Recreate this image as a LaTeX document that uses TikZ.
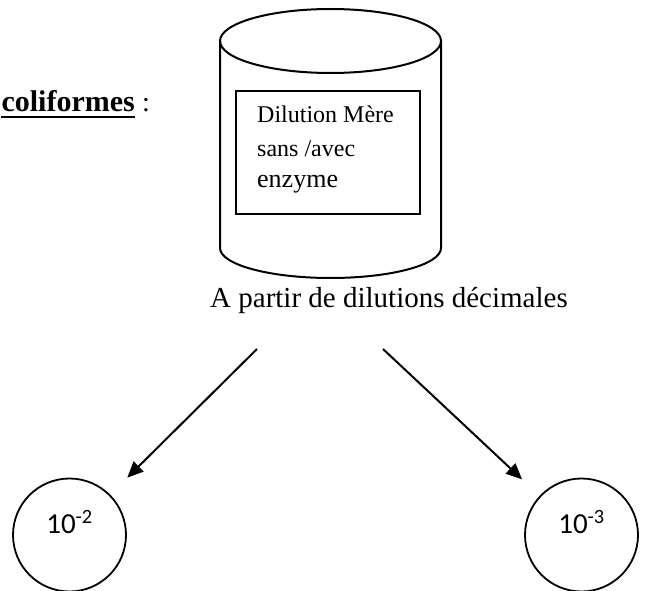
\documentclass[tikz,border=0pt]{standalone}
\usepackage{fontspec}
\setmainfont{Liberation Serif}
\newfontfamily\numfont{Carlito}
\usetikzlibrary{arrows.meta}

\tikzset{
  outline/.style={draw=black, line width=2pt},
  dilcircle/.style={circle, draw=black, line width=1.8pt, minimum size=113pt, inner sep=0pt},
  numlabel/.style={font=\numfont\fontsize{29}{32}\selectfont, inner sep=0pt},
  boxtext/.style={anchor=base west, inner sep=0pt, font=\fontsize{24}{27}\selectfont},
  flow/.style={line width=2pt, -{Triangle[length=16pt, width=14pt]}, shorten >=24pt},
}

\begin{document}
\begin{tikzpicture}[x=1pt, y=-1pt]
  \useasboundingbox (0,0) rectangle (662,591);

  % heading fragment on the left
  \node (head) [anchor=base east, inner sep=0pt, font=\bfseries\fontsize{30}{32}\selectfont] at (135,112) {coliformes};
  \draw[line width=2.5pt] ([yshift=-5pt]head.base west) -- ([yshift=-5pt]head.base east);
  \node (colon) [anchor=base west, inner sep=0pt, font=\fontsize{28}{30}\selectfont] at (142,112) {:};

  % stock dilution vessel
  \draw[outline] (330.5,41) ellipse [x radius=110.5, y radius=32];
  \draw[outline] (220,41) -- (220,248)
    arc[start angle=180, end angle=0, x radius=110.5, y radius=30] -- (441,41);

  \node (box) [outline, minimum width=184pt, minimum height=123pt, inner sep=0pt] at (328,152.5) {};
  \node (l1) [boxtext] at (257,123) {Dilution Mère};
  \node (l2) [boxtext] at (257,157) {sans /avec};
  \node (l3) [boxtext, font=\fontsize{26}{29}\selectfont] at (257,188) {enzyme};

  \node (caption) [anchor=base west, inner sep=0pt, font=\fontsize{29}{32}\selectfont] at (210,307) {A partir de dilutions décimales};

  % decimal dilutions
  \node (c1) [dilcircle] at (69.5,535) {};
  \node (c2) [dilcircle] at (581.5,535) {};
  \node (n1) [numlabel, anchor=base] at ([yshift=2pt]c1.center) {10\textsuperscript{-2}};
  \node (n2) [numlabel, anchor=base] at ([yshift=2pt]c2.center) {10\textsuperscript{-3}};

  \coordinate (s1) at (257,349);
  \coordinate (s2) at (383,349);
  \draw[flow] (s1) -- (c1);
  \draw[flow] (s2) -- (c2);
\end{tikzpicture}
\end{document}
